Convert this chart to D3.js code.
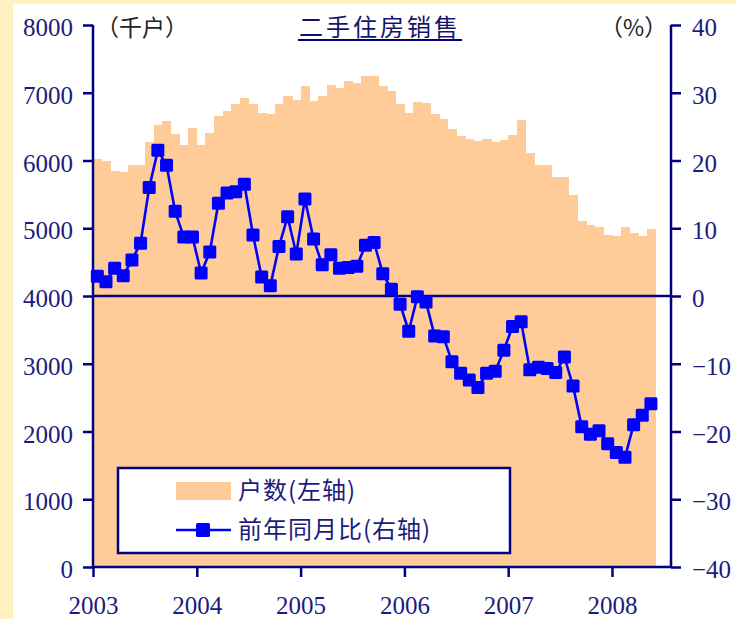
<!DOCTYPE html>
<html><head><meta charset="utf-8">
<script src="https://cdn.jsdelivr.net/npm/d3@7"></script>
<style>
html,body{margin:0;padding:0;background:#FFF2C0;}
svg{display:block;}
.num{font-family:"Liberation Serif","Times New Roman","DejaVu Serif",serif;}
</style></head>
<body>
<svg id="c" width="736" height="619"></svg>
<script>
// Monthly data Jan 2003 – May 2008
const years = ["2003","2004","2005","2006","2007","2008"];
const households = [
  6020, 6000, 5850, 5830, 5940, 5940, 6270, 6520, 6580, 6390, 6230, 6480,
  6230, 6400, 6650, 6730, 6840, 6920, 6830, 6700, 6690, 6840, 6950, 6890,
  7100, 6880, 6950, 7110, 7070, 7170, 7150, 7240, 7250, 7100, 7030, 6840,
  6700, 6860, 6850, 6690, 6610, 6470, 6360, 6320, 6290, 6320, 6280, 6300,
  6380, 6600, 6110, 5930, 5930, 5760, 5760, 5490, 5110, 5050, 5020, 4900,
  4890, 5020, 4930, 4890, 4990
];
const yoy = [
  2.9, 2.1, 4.1, 3.0, 5.3, 7.8, 16.0, 21.5, 19.3, 12.5, 8.7, 8.7,
  3.4, 6.5, 13.7, 15.2, 15.4, 16.5, 9.0, 2.8, 1.5, 7.3, 11.7, 6.2,
  14.3, 8.4, 4.6, 6.1, 4.1, 4.2, 4.4, 7.5, 7.9, 3.3, 1.0, -1.2,
  -5.2, -0.1, -0.9, -5.9, -6.0, -9.7, -11.4, -12.4, -13.5, -11.4, -11.1, -8.0,
  -4.5, -3.8, -10.9, -10.5, -10.7, -11.3, -9.0, -13.3, -19.3, -20.4, -19.9, -21.8,
  -23.1, -23.8, -19.0, -17.6, -15.9
];
const leftTicks = [0,1000,2000,3000,4000,5000,6000,7000,8000];
const rightTicks = [-40,-30,-20,-10,0,10,20,30,40];
const title = "二手住房销售";
const leftUnit = "（千户）";
const rightUnit = "（%）";
const legendLabels = ["户数(左轴)", "前年同月比(右轴)"];

const navy = "#000080";
const labelColor = "#1c1c7c";
const barColor = "#FFCC99";
const lineColor = "#0000FF";
const serif = "'Liberation Serif', 'Times New Roman', 'DejaVu Serif', serif";

const svg = d3.select("#c");
// white panel
svg.append("rect").attr("x",13).attr("y",4).attr("width",736-13).attr("height",619-4).attr("fill","#fff");

const x = d3.scaleLinear().domain([0,72]).range([93, 93+72*8.65]);
const yL = d3.scaleLinear().domain([0,8000]).range([567,25]);
const yR = d3.scaleLinear().domain([-40,40]).range([567,25]);
const axisRightX = 671;

// bars
svg.append("g").selectAll("rect").data(households).join("rect")
  .attr("x",(d,i)=>x(i))
  .attr("y",d=>yL(d))
  .attr("width",(d,i)=>x(i+1)-x(i)+0.6)
  .attr("height",d=>yL(0)-yL(d))
  .attr("fill",barColor)
  .attr("shape-rendering","crispEdges");

// zero line
svg.append("line").attr("x1",x(0)).attr("x2",axisRightX).attr("y1",yR(0)).attr("y2",yR(0))
  .attr("stroke",navy).attr("stroke-width",2.5);

// left axis
const gL = svg.append("g").attr("transform",`translate(${x(0)},0)`)
  .call(d3.axisLeft(yL).tickValues(leftTicks).tickSize(10).tickPadding(10).tickFormat(d3.format("d")));
// right axis
const gR = svg.append("g").attr("transform",`translate(${axisRightX},0)`)
  .call(d3.axisRight(yR).tickValues(rightTicks).tickSize(10).tickPadding(11)
    .tickFormat(d=> d<0 ? "−"+Math.abs(d) : String(d)));
// bottom axis
const xb = d3.scaleLinear().domain([0,72]).range(x.range());
const gB = svg.append("g").attr("transform",`translate(0,${yL(0)})`)
  .call(d3.axisBottom(xb).tickValues([0,12,24,36,48,60]).tickSize(10).tickPadding(19)
    .tickFormat((d,i)=>years[i]));

[gL,gR,gB].forEach(g=>{
  g.attr("font-family",serif).attr("font-size",25);
  g.select(".domain").remove();
  g.selectAll(".tick line").attr("stroke",navy).attr("stroke-width",2.5);
  g.selectAll(".tick text").attr("fill",labelColor).attr("class","num")
    .attr("font-family",serif).attr("font-size",25);
});
gL.selectAll(".tick text").attr("dy","0.42em");
gR.selectAll(".tick text").attr("dy","0.42em");

// axis lines
svg.append("line").attr("x1",x(0)).attr("x2",x(0)).attr("y1",yL(8000)).attr("y2",yL(0)+1)
  .attr("stroke",navy).attr("stroke-width",2.5);
svg.append("line").attr("x1",axisRightX).attr("x2",axisRightX).attr("y1",yR(40)).attr("y2",yR(-40)+1)
  .attr("stroke",navy).attr("stroke-width",2.5);
svg.append("line").attr("x1",x(0)).attr("x2",axisRightX).attr("y1",yL(0)).attr("y2",yL(0))
  .attr("stroke",navy).attr("stroke-width",2.5);

// line
const lineGen = d3.line().x((d,i)=>x(i+0.5)).y(d=>yR(d));
svg.append("path").datum(yoy).attr("d",lineGen).attr("fill","none")
  .attr("stroke",lineColor).attr("stroke-width",2.6);
svg.append("g").selectAll("rect").data(yoy).join("rect")
  .attr("x",(d,i)=>x(i+0.5)-6.5).attr("y",d=>yR(d)-6.5)
  .attr("width",13).attr("height",13).attr("rx",1.5)
  .attr("fill",lineColor);

// title & units
const cjk = "'Noto Sans CJK SC', 'Noto Sans', sans-serif";
svg.append("text").attr("x",380).attr("y",36).attr("text-anchor","middle")
  .style("font-family",cjk).style("font-size","24px").style("letter-spacing","3px")
  .attr("fill","#14146e").text(title);
svg.append("line").attr("x1",298).attr("x2",462).attr("y1",40).attr("y2",40)
  .attr("stroke",navy).attr("stroke-width",2);
svg.append("text").attr("x",96).attr("y",36)
  .style("font-family",cjk).style("font-size","23px").attr("fill","#222").text(leftUnit);
svg.append("text").attr("x",600).attr("y",36)
  .style("font-family",cjk).style("font-size","23px").attr("fill","#222").text(rightUnit);

// legend
const lg = svg.append("g");
lg.append("rect").attr("x",118).attr("y",468).attr("width",392).attr("height",85)
  .attr("fill","#fff").attr("stroke",navy).attr("stroke-width",2.5);
lg.append("rect").attr("x",176).attr("y",482).attr("width",55).attr("height",18).attr("fill",barColor);
lg.append("line").attr("x1",176).attr("x2",231).attr("y1",530).attr("y2",530)
  .attr("stroke",lineColor).attr("stroke-width",2.6);
lg.append("rect").attr("x",203-7).attr("y",530-7).attr("width",14).attr("height",14).attr("rx",1.5).attr("fill",lineColor);
lg.selectAll("text.lt").data(legendLabels).join("text").attr("class","lt")
  .attr("x",238).attr("y",(d,i)=>[499,538][i])
  .style("font-family",cjk).style("font-size","24px").style("letter-spacing","1px")
  .attr("fill",labelColor).text(d=>d);
</script>
</body></html>
